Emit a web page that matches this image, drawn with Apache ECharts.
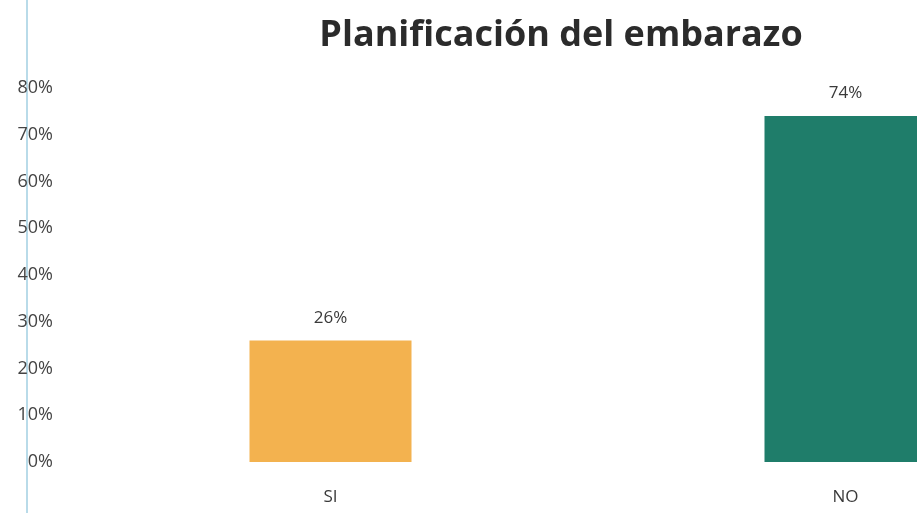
<!DOCTYPE html>
<html>
<head>
<meta charset="utf-8">
<script src="https://cdn.jsdelivr.net/npm/echarts@6/dist/echarts.min.js"></script>
<style>
  html, body { margin: 0; padding: 0; background: #ffffff; overflow: hidden; }
  /* the canvas is wider than the window: the NO bar runs off the right edge */
  #chart { width: 1120px; height: 513px; }
</style>
</head>
<body>
<div id="chart"></div>
<script>
// Planificación del embarazo: share of pregnancies planned (SI) vs not planned (NO)
const categories = ['SI', 'NO'];
const percentages = [26, 74];
const barColors = ['#F3B24F', '#1F7D6A'];
const yTicks = { min: 0, max: 80, step: 10 };

const chart = echarts.init(document.getElementById('chart'));
const font = '"Open Sans", "Noto Sans", sans-serif';

chart.setOption({
  backgroundColor: '#ffffff',
  animation: false,
  title: {
    text: 'Planificación del embarazo',
    left: 556,
    textAlign: 'center',
    top: 13,
    textStyle: { fontFamily: font, fontWeight: 'bold', fontSize: 36, color: '#2b2b2b' }
  },
  graphic: [{
    type: 'line',
    shape: { x1: 27, y1: 0, x2: 27, y2: 513 },
    style: { stroke: '#b9dbe9', lineWidth: 2 },
    z: -1
  }],
  grid: { left: 73, top: 88, width: 1030, height: 374, containLabel: false },
  xAxis: {
    type: 'category',
    data: categories,
    axisLine: { show: false },
    axisTick: { show: false },
    axisLabel: { margin: 27, fontFamily: font, fontSize: 17, color: '#3a3a3a' }
  },
  yAxis: {
    type: 'value',
    min: yTicks.min,
    max: yTicks.max,
    interval: yTicks.step,
    splitLine: { show: false },
    axisLine: { show: false },
    axisTick: { show: false },
    axisLabel: {
      margin: 20,
      fontFamily: font,
      fontSize: 18,
      color: '#444444',
      formatter: v => v + '%'
    }
  },
  series: [{
    type: 'bar',
    barWidth: 162,
    data: percentages.map((v, i) => ({ value: v, itemStyle: { color: barColors[i] } })),
    label: {
      show: true,
      position: 'top',
      distance: 14,
      fontFamily: font,
      fontSize: 17,
      color: '#3a3a3a',
      formatter: p => p.value + '%'
    }
  }]
});
</script>
</body>
</html>
